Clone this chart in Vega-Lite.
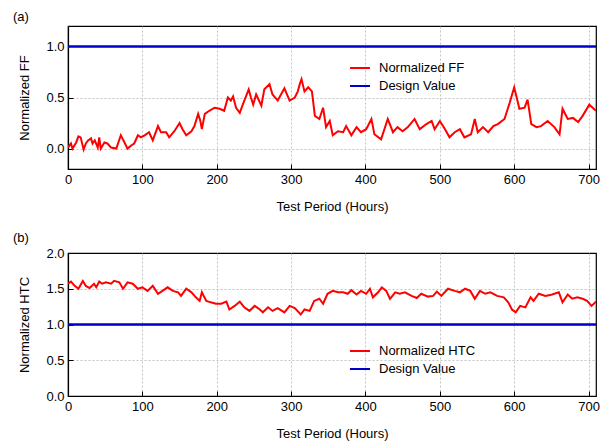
{
  "$schema": "https://vega.github.io/schema/vega-lite/v6.json",
  "background": "white",
  "padding": {"left": 12, "top": 10, "right": 5, "bottom": 5},
  "config": {
    "font": "Liberation Sans",
    "view": {"stroke": "black", "strokeWidth": 1.2},
    "axis": {
      "domainColor": "black", "domainWidth": 1.2,
      "tickColor": "black", "tickSize": -5, "tickWidth": 1,
      "labelColor": "black", "labelFontSize": 13, "labelPadding": 9,
      "titleColor": "black", "titleFontSize": 13, "titleFontWeight": "normal",
      "gridColor": "#b5b5b5", "gridDash": [2, 2], "gridWidth": 0.8
    },
    "axisX": {"titlePadding": 14, "labelFlush": false},
    "axisY": {"titlePadding": 14},
    "legend": {
      "orient": "none", "title": null, "symbolType": "stroke", "symbolStrokeWidth": 2,
      "symbolSize": 400, "labelFontSize": 13, "labelColor": "black", "rowPadding": -20, "labelOffset": 8
    },
    "title": {"fontSize": 13, "fontWeight": "normal", "anchor": "start", "frame": "group", "dx": -55, "offset": 2, "color": "black"}
  },
  "datasets": {
    "ff": [
      {"h":0,"v":0.01},{"h":4,"v":0.05},{"h":6,"v":0.0},{"h":11,"v":0.06},{"h":14,"v":0.12},{"h":17,"v":0.11},{"h":21,"v":-0.01},{"h":24,"v":0.05},{"h":27,"v":0.08},{"h":31,"v":0.1},{"h":33,"v":0.05},{"h":36,"v":0.08},{"h":40,"v":0.01},{"h":42,"v":0.11},{"h":44,"v":0.0},{"h":49,"v":0.06},{"h":53,"v":0.05},{"h":58,"v":0.01},{"h":65,"v":0.0},{"h":71,"v":0.13},{"h":76,"v":0.06},{"h":80,"v":0.0},{"h":85,"v":0.03},{"h":89,"v":0.05},{"h":94,"v":0.13},{"h":98,"v":0.11},{"h":103,"v":0.13},{"h":109,"v":0.16},{"h":114,"v":0.08},{"h":121,"v":0.22},{"h":125,"v":0.16},{"h":132,"v":0.16},{"h":136,"v":0.11},{"h":143,"v":0.17},{"h":150,"v":0.25},{"h":154,"v":0.19},{"h":159,"v":0.13},{"h":166,"v":0.17},{"h":170,"v":0.22},{"h":175,"v":0.34},{"h":178,"v":0.27},{"h":180,"v":0.19},{"h":184,"v":0.34},{"h":190,"v":0.37},{"h":197,"v":0.4},{"h":204,"v":0.39},{"h":210,"v":0.37},{"h":215,"v":0.5},{"h":219,"v":0.47},{"h":222,"v":0.51},{"h":226,"v":0.4},{"h":231,"v":0.35},{"h":235,"v":0.43},{"h":243,"v":0.58},{"h":246,"v":0.5},{"h":249,"v":0.43},{"h":253,"v":0.53},{"h":260,"v":0.42},{"h":264,"v":0.58},{"h":271,"v":0.63},{"h":275,"v":0.53},{"h":282,"v":0.47},{"h":291,"v":0.59},{"h":298,"v":0.47},{"h":305,"v":0.5},{"h":309,"v":0.56},{"h":312,"v":0.64},{"h":314,"v":0.68},{"h":318,"v":0.56},{"h":323,"v":0.6},{"h":328,"v":0.56},{"h":332,"v":0.32},{"h":338,"v":0.29},{"h":343,"v":0.4},{"h":347,"v":0.21},{"h":352,"v":0.27},{"h":356,"v":0.13},{"h":363,"v":0.17},{"h":370,"v":0.16},{"h":374,"v":0.22},{"h":381,"v":0.13},{"h":388,"v":0.21},{"h":394,"v":0.16},{"h":401,"v":0.19},{"h":408,"v":0.29},{"h":412,"v":0.14},{"h":421,"v":0.09},{"h":430,"v":0.29},{"h":437,"v":0.16},{"h":443,"v":0.21},{"h":450,"v":0.17},{"h":457,"v":0.21},{"h":466,"v":0.29},{"h":473,"v":0.19},{"h":482,"v":0.24},{"h":489,"v":0.27},{"h":493,"v":0.19},{"h":500,"v":0.27},{"h":507,"v":0.19},{"h":513,"v":0.11},{"h":520,"v":0.16},{"h":527,"v":0.19},{"h":533,"v":0.11},{"h":542,"v":0.14},{"h":547,"v":0.29},{"h":551,"v":0.16},{"h":558,"v":0.21},{"h":565,"v":0.16},{"h":572,"v":0.22},{"h":578,"v":0.24},{"h":587,"v":0.29},{"h":594,"v":0.45},{"h":600,"v":0.6},{"h":607,"v":0.39},{"h":614,"v":0.4},{"h":618,"v":0.48},{"h":623,"v":0.24},{"h":630,"v":0.21},{"h":636,"v":0.22},{"h":645,"v":0.27},{"h":654,"v":0.21},{"h":661,"v":0.14},{"h":665,"v":0.39},{"h":672,"v":0.29},{"h":679,"v":0.3},{"h":686,"v":0.26},{"h":692,"v":0.32},{"h":701,"v":0.43},{"h":710,"v":0.37}
    ],
    "htc": [
      {"h":0,"v":1.57},{"h":4,"v":1.6},{"h":9,"v":1.54},{"h":14,"v":1.5},{"h":20,"v":1.61},{"h":24,"v":1.54},{"h":29,"v":1.51},{"h":35,"v":1.57},{"h":38,"v":1.52},{"h":42,"v":1.6},{"h":46,"v":1.57},{"h":51,"v":1.59},{"h":58,"v":1.57},{"h":62,"v":1.61},{"h":69,"v":1.59},{"h":74,"v":1.5},{"h":80,"v":1.59},{"h":87,"v":1.57},{"h":94,"v":1.5},{"h":100,"v":1.52},{"h":107,"v":1.47},{"h":114,"v":1.54},{"h":121,"v":1.43},{"h":127,"v":1.47},{"h":134,"v":1.52},{"h":141,"v":1.47},{"h":148,"v":1.45},{"h":152,"v":1.4},{"h":159,"v":1.5},{"h":166,"v":1.45},{"h":172,"v":1.38},{"h":177,"v":1.33},{"h":180,"v":1.45},{"h":186,"v":1.33},{"h":192,"v":1.31},{"h":199,"v":1.29},{"h":206,"v":1.29},{"h":213,"v":1.32},{"h":217,"v":1.21},{"h":224,"v":1.26},{"h":231,"v":1.32},{"h":237,"v":1.24},{"h":244,"v":1.19},{"h":251,"v":1.26},{"h":258,"v":1.21},{"h":262,"v":1.17},{"h":269,"v":1.24},{"h":275,"v":1.19},{"h":282,"v":1.23},{"h":291,"v":1.17},{"h":298,"v":1.26},{"h":305,"v":1.23},{"h":313,"v":1.14},{"h":318,"v":1.21},{"h":325,"v":1.19},{"h":331,"v":1.33},{"h":338,"v":1.36},{"h":343,"v":1.29},{"h":349,"v":1.43},{"h":356,"v":1.47},{"h":363,"v":1.45},{"h":370,"v":1.45},{"h":376,"v":1.43},{"h":381,"v":1.48},{"h":388,"v":1.42},{"h":394,"v":1.47},{"h":401,"v":1.43},{"h":406,"v":1.5},{"h":410,"v":1.38},{"h":417,"v":1.45},{"h":422,"v":1.52},{"h":428,"v":1.47},{"h":433,"v":1.36},{"h":440,"v":1.45},{"h":446,"v":1.43},{"h":453,"v":1.45},{"h":462,"v":1.4},{"h":469,"v":1.37},{"h":475,"v":1.43},{"h":484,"v":1.39},{"h":491,"v":1.4},{"h":496,"v":1.46},{"h":502,"v":1.4},{"h":511,"v":1.5},{"h":520,"v":1.47},{"h":527,"v":1.45},{"h":534,"v":1.5},{"h":541,"v":1.47},{"h":547,"v":1.36},{"h":554,"v":1.47},{"h":561,"v":1.43},{"h":568,"v":1.45},{"h":577,"v":1.4},{"h":586,"v":1.38},{"h":592,"v":1.31},{"h":597,"v":1.21},{"h":602,"v":1.17},{"h":608,"v":1.26},{"h":615,"v":1.24},{"h":622,"v":1.38},{"h":626,"v":1.33},{"h":633,"v":1.43},{"h":642,"v":1.4},{"h":651,"v":1.42},{"h":660,"v":1.45},{"h":665,"v":1.31},{"h":672,"v":1.42},{"h":678,"v":1.36},{"h":685,"v":1.38},{"h":692,"v":1.36},{"h":698,"v":1.33},{"h":704,"v":1.26},{"h":710,"v":1.32}
    ],
    "design": [{"h":0,"v":1},{"h":710,"v":1}]
  },
  "spacing": 84,
  "bounds": "flush",
  "resolve": {"scale": {"color": "independent"}, "legend": {"color": "independent"}},
  "vconcat": [
    {
      "width": 528, "height": 143,
      "title": {"text": "(a)"},
      "encoding": {
        "x": {"field": "h", "type": "quantitative", "scale": {"domain": [0, 710], "nice": false},
              "axis": {"title": "Test Period (Hours)", "values": [0,100,200,300,400,500,600,700]}},
        "y": {"field": "v", "type": "quantitative", "scale": {"domain": [-0.2, 1.2], "nice": false, "zero": false},
              "axis": {"title": "Normalized FF", "values": [0, 0.5, 1], "format": ".1f"}}
      },
      "layer": [
        {
          "data": {"name": "ff"},
          "mark": {"type": "line", "strokeWidth": 2, "clip": true},
          "encoding": {
            "color": {"datum": "Normalized FF", "type": "nominal",
                      "scale": {"domain": ["Normalized FF", "Design Value"], "range": ["#ff0000", "#0000cc"]},
                      "legend": {"legendX": 281, "legendY": 31}}
          }
        },
        {
          "data": {"name": "design"},
          "mark": {"type": "line", "strokeWidth": 2.5},
          "encoding": {"color": {"datum": "Design Value", "type": "nominal"}}
        }
      ]
    },
    {
      "width": 528, "height": 143,
      "title": {"text": "(b)"},
      "encoding": {
        "x": {"field": "h", "type": "quantitative", "scale": {"domain": [0, 710], "nice": false},
              "axis": {"title": "Test Period (Hours)", "values": [0,100,200,300,400,500,600,700]}},
        "y": {"field": "v", "type": "quantitative", "scale": {"domain": [0, 2], "nice": false},
              "axis": {"title": "Normalized HTC", "values": [0, 0.5, 1, 1.5, 2], "format": ".1f",
                       "gridOpacity": {"condition": {"test": "datum.value >= 2", "value": 0}, "value": 1}}}
      },
      "layer": [
        {
          "data": {"name": "htc"},
          "mark": {"type": "line", "strokeWidth": 2, "clip": true},
          "encoding": {
            "color": {"datum": "Normalized HTC", "type": "nominal",
                      "scale": {"domain": ["Normalized HTC", "Design Value"], "range": ["#ff0000", "#0000cc"]},
                      "legend": {"legendX": 281, "legendY": 87}}
          }
        },
        {
          "data": {"name": "design"},
          "mark": {"type": "line", "strokeWidth": 2.5},
          "encoding": {"color": {"datum": "Design Value", "type": "nominal"}}
        }
      ]
    }
  ]
}
